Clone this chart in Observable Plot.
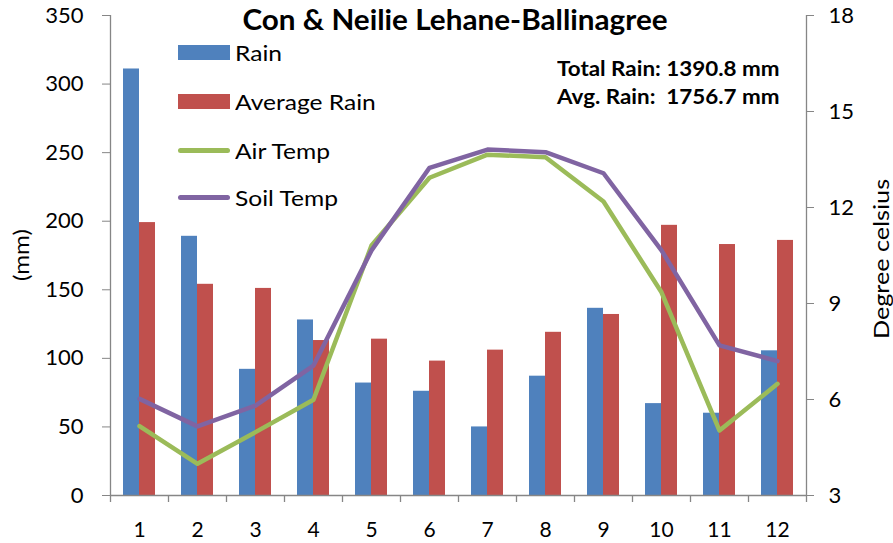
<!DOCTYPE html>
<html>
<head>
<meta charset="utf-8">
<script src="https://cdn.jsdelivr.net/npm/d3@7"></script>
<script src="https://cdn.jsdelivr.net/npm/@observablehq/plot@0.6"></script>
<style>
  html, body { margin: 0; padding: 0; background: #fff; overflow: hidden; }
  #wrap { position: relative; width: 893px; height: 543px; font-family: Lato, "Open Sans", sans-serif; }
  #wrap svg { position: absolute; left: 0; top: 0; }
  .ov { position: absolute; line-height: 1; white-space: pre; color: #000; }
  .sw { position: absolute; }
</style>
</head>
<body>
<div id="wrap"></div>
<script>
// ---- data ----
const months = [1, 2, 3, 4, 5, 6, 7, 8, 9, 10, 11, 12];
const rain = [311, 189, 92, 128, 82, 76, 50, 87, 136.5, 67, 60, 105.5];
const avgRain = [199, 154, 151, 113, 114, 98, 106, 119, 132, 197, 183, 186];
const airTemp = [5.17, 3.99, 4.98, 5.99, 10.81, 12.93, 13.65, 13.57, 12.19, 9.35, 5.03, 6.49];
const soilTemp = [6.02, 5.16, 5.81, 7.06, 10.66, 13.24, 13.81, 13.73, 13.07, 10.66, 7.69, 7.2];
const mmTicks = [0, 50, 100, 150, 200, 250, 300, 350];
const tempTicks = [3, 6, 9, 12, 15, 18];
const title = "Con & Neilie Lehane-Ballinagree";
const seriesNames = ["Rain", "Average Rain", "Air Temp", "Soil Temp"];
const notes = ["Total Rain: 1390.8 mm", "Avg. Rain:  1756.7 mm"];

const colors = {rain: "#4F81BD", avg: "#C0504D", air: "#9BBB59", soil: "#8064A2"};
const axisGray = "#868686";

// temperature (3..18) mapped onto the mm scale (0..350)
const tMin = 3, tMax = 18, mmMax = 350;
const toMm = t => (t - tMin) / (tMax - tMin) * mmMax;
const fromMm = v => tMin + v * (tMax - tMin) / mmMax;

const rows = months.map((m, i) => ({
  month: m, rain: rain[i], avg: avgRain[i],
  air: toMm(airTemp[i]), soil: toMm(soilTemp[i])
}));

const half = 29; // half band width (style offset)

const chart = Plot.plot({
  width: 893,
  height: 543,
  marginLeft: 110,
  marginRight: 87,
  marginTop: 15,
  marginBottom: 48,
  style: {fontFamily: "Lato, 'Open Sans', sans-serif", fontSize: "22px", background: "transparent"},
  x: {type: "band", domain: months, padding: 0},
  y: {domain: [0, mmMax]},
  marks: [
    Plot.barY(rows, {x: "month", y: "rain", fill: colors.rain, insetLeft: 13, insetRight: 29}),
    Plot.barY(rows, {x: "month", y: "avg", fill: colors.avg, insetLeft: 29, insetRight: 13}),
    // axis lines
    Plot.ruleY([0], {stroke: axisGray, strokeWidth: 1.3}),
    Plot.ruleX([months[0]], {y1: 0, y2: mmMax, dx: -half, stroke: axisGray, strokeWidth: 1.3}),
    Plot.ruleX([months[months.length - 1]], {y1: 0, y2: mmMax, dx: half, stroke: axisGray, strokeWidth: 1.3}),
    // category boundary ticks
    Plot.ruleX(months, {y1: 0, y2: 0, insetBottom: -7, dx: -half, stroke: axisGray, strokeWidth: 1.3}),
    Plot.ruleX([months[months.length - 1]], {y1: 0, y2: 0, insetBottom: -7, dx: half, stroke: axisGray, strokeWidth: 1.3}),
    // lines
    Plot.line(rows, {x: "month", y: "air", stroke: colors.air, strokeWidth: 4.5, strokeLinejoin: "round"}),
    Plot.line(rows, {x: "month", y: "soil", stroke: colors.soil, strokeWidth: 4.5, strokeLinejoin: "round"}),
    // axes
    Plot.axisX({tickSize: 0, tickPadding: 27, label: null, fontSize: 21}),
    Plot.axisY({anchor: "left", ticks: mmTicks, tickSize: 8, tickPadding: 19, stroke: axisGray, label: null, fontSize: 22}),
    Plot.axisY({anchor: "right", ticks: tempTicks.map(toMm), tickFormat: d => String(Math.round(fromMm(d))),
                tickSize: 7, tickPadding: 15, stroke: axisGray, label: null, fontSize: 22})
  ]
});

const wrap = document.getElementById("wrap");
wrap.appendChild(chart);

function addText(txt, css) {
  const d = document.createElement("div");
  d.className = "ov";
  d.textContent = txt;
  Object.assign(d.style, css);
  wrap.appendChild(d);
  return d;
}
function addSwatch(css) {
  const d = document.createElement("div");
  d.className = "sw";
  Object.assign(d.style, css);
  wrap.appendChild(d);
}

// title
addText(title, {left: "455px", top: "5px", transform: "translateX(-50%) scaleX(1.06)", fontSize: "28px", fontWeight: "700"});

// legend
const legTops = [41.5, 90.5, 139.5, 186.5];
const legColors = [colors.rain, colors.avg, colors.air, colors.soil];
seriesNames.forEach((name, i) => {
  addText(name, {left: "235px", top: legTops[i] + "px", fontSize: "21px", transform: "scaleX(1.17)", transformOrigin: "left center"});
  const cy = legTops[i] + 11;
  if (i < 2) {
    addSwatch({left: "178px", top: (cy - 7.5) + "px", width: "52px", height: "15px", background: legColors[i]});
  } else {
    addSwatch({left: "178px", top: (cy - 2.5) + "px", width: "52px", height: "5px", background: legColors[i], borderRadius: "2.5px"});
  }
});

// notes
addText(notes[0], {left: "557px", top: "57.5px", fontSize: "20px", fontWeight: "700", transform: "scaleX(1.12)", transformOrigin: "left center"});
addText(notes[1], {left: "557px", top: "86px", fontSize: "20px", fontWeight: "700", transform: "scaleX(1.12)", transformOrigin: "left center"});

// axis titles
addText("(mm)", {left: "20px", top: "255px", transform: "translate(-50%,-50%) rotate(-90deg) scaleX(1.15)", fontSize: "21px"});
addText("Degree celsius", {left: "880px", top: "259px", transform: "translate(-50%,-50%) rotate(-90deg) scaleX(1.2)", fontSize: "21px"});
</script>
</body>
</html>
